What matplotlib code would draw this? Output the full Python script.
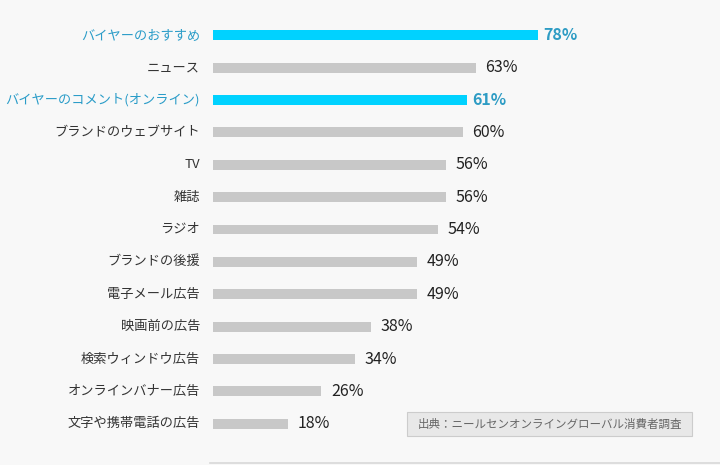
import matplotlib.pyplot as plt
from matplotlib.patches import FancyBboxPatch
from matplotlib.lines import Line2D

plt.rcParams['font.family'] = ['Noto Sans CJK JP', 'DejaVu Sans']

labels = ['バイヤーのおすすめ', 'ニュース', 'バイヤーのコメント(オンライン)', 'ブランドのウェブサイト',
          'TV', '雑誌', 'ラジオ', 'ブランドの後援', '電子メール広告', '映画前の広告',
          '検索ウィンドウ広告', 'オンラインバナー広告', '文字や携帯電話の広告']
values = [78, 63, 61, 60, 56, 56, 54, 49, 49, 38, 34, 26, 18]
highlight = [True, False, True, False, False, False, False, False, False, False, False, False, False]
source = '出典：ニールセンオンライングローバル消費者調査'

bg = '#f8f8f8'
fig = plt.figure(figsize=(7.2, 4.65), dpi=100, facecolor=bg)
W, H = 720, 465
# axes: x 213..720 px, y 19..440 px
ax = fig.add_axes([213 / W, 1 - 440 / H, (720 - 213) / W, (440 - 19) / H])
ax.set_facecolor(bg)

px = 4.167  # pixels per percent
ax.set_xlim(0, (720 - 213) / px)
ax.set_ylim(len(values) - 0.5, -0.5)

ys = list(range(len(values)))
colors = ['#00d2ff' if h else '#c8c8c8' for h in highlight]
ax.barh(ys, values, height=10 / 32.4, color=colors)

for y, v, lab, h in zip(ys, values, labels, highlight):
    tc = '#2e9cc4' if h else '#222222'
    ax.text(v + (1.2 if h else 2.3), y, f'{v}%', va='center', ha='left',
            fontsize=11.5, color=tc, fontweight='bold' if h else 'normal')
    ax.text(-13 / px, y, lab, va='center', ha='right', fontsize=9.5,
            color='#2a9cc8' if h else '#333333')

for s in ax.spines.values():
    s.set_visible(False)
ax.set_xticks([])
ax.set_yticks([])

# source box
fig.add_artist(FancyBboxPatch((407 / W, 1 - 436 / H), 285 / W, 24 / H,
                              boxstyle='square,pad=0', transform=fig.transFigure,
                              facecolor='#e8e8e8', edgecolor='#cccccc', linewidth=0.8))
fig.text(549.5 / W, 1 - 424 / H, source, ha='center', va='center', fontsize=8.3, color='#666666')

# bottom rule
fig.add_artist(Line2D([210 / W, 1], [1 - 463 / H, 1 - 463 / H], color='#d8d8d8', linewidth=1.2))

fig.savefig('out.png', dpi=100, facecolor=bg)
